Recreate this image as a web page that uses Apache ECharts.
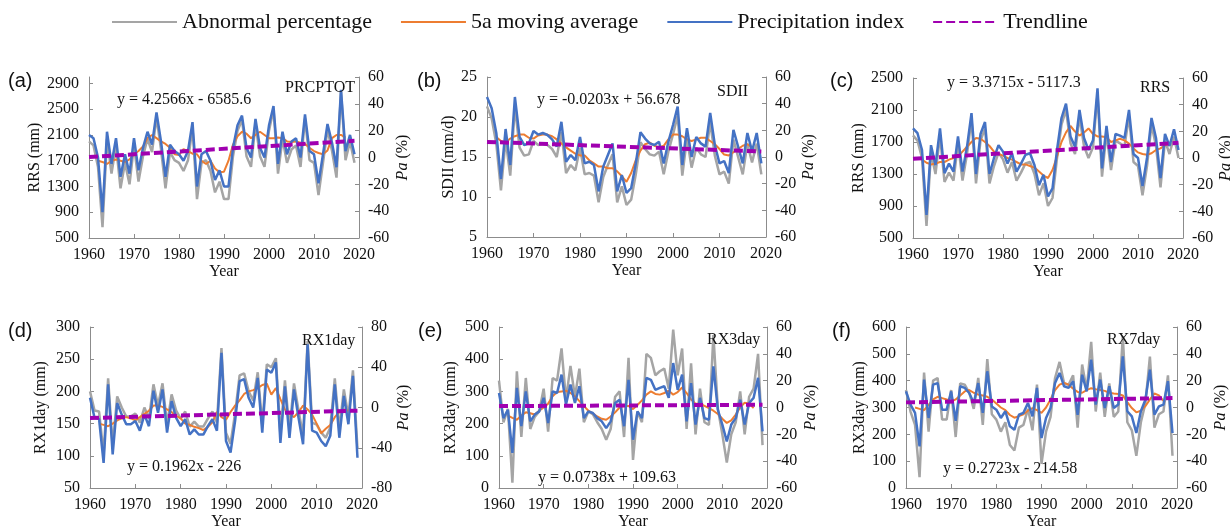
<!DOCTYPE html>
<html>
<head>
<meta charset="utf-8">
<script src="https://cdn.jsdelivr.net/npm/echarts@6/dist/echarts.min.js"></script>
<style>
  html, body { margin: 0; padding: 0; background: #fff; }
  #chart { width: 1230px; height: 529px; }
</style>
</head>
<body>
<div id="chart"></div>
<script>
// years on the x axis
const years = [1960, 1961, 1962, 1963, 1964, 1965, 1966, 1967, 1968, 1969,
  1970, 1971, 1972, 1973, 1974, 1975, 1976, 1977, 1978, 1979,
  1980, 1981, 1982, 1983, 1984, 1985, 1986, 1987, 1988, 1989,
  1990, 1991, 1992, 1993, 1994, 1995, 1996, 1997, 1998, 1999,
  2000, 2001, 2002, 2003, 2004, 2005, 2006, 2007, 2008, 2009,
  2010, 2011, 2012, 2013, 2014, 2015, 2016, 2017, 2018, 2019];
const trendYears = [1960, 2019];

// (a) PRCPTOT
const aIndex = [2100, 2050, 1750, 900, 2150, 1650, 2050, 1450, 1800, 1500,
  2050, 1550, 1900, 2150, 1950, 2450, 2000, 1450, 1950, 1850,
  1800, 1700, 1850, 2300, 1300, 1800, 1850, 1700, 1400, 1550,
  1300, 1300, 1900, 2250, 2400, 1900, 1750, 2350, 1900, 1750,
  2250, 2550, 1650, 2150, 1800, 2000, 2050, 1750, 2420, 1850,
  1800, 1350, 1800, 2270, 1980, 1600, 2800, 1850, 2100, 1800];
const aMoving = [null, null, 1700, 1680, 1650, 1700, 1720, 1700, 1680, 1720,
  1800, 1850, 1920, 2050, 2100, 2050, 2000, 1960, 1900, 1800,
  1790, 1880, 1850, 1810, 1800, 1700, 1650, 1700, 1580, 1520,
  1530, 1700, 1950, 2080, 2150, 2120, 2050, 2100, 2150, 2100,
  2050, 2050, 2060, 2050, 2000, 1990, 2000, 1980, 1960, 1900,
  1850, 1820, 1800, 1860, 2050, 2100, 2100, 2060, null, null];
const aAbnormal = [12, 9, -7, -52, 14, -12, 9, -23, -4, -20,
  9, -18, 1, 14, 4, 30, 6, -23, 4, -2,
  -4, -10, -2, 22, -31, -4, -2, -10, -26, -18,
  -31, -31, 1, 20, 28, 1, -7, 25, 1, -7,
  20, 36, -12, 14, -4, 6, 9, -7, 29, -2,
  -4, -28, -4, 21, 5, -15, 49, -2, 12, -4];
const aTrend = [1757.3, 2008.5];
const aTicks = [500, 900, 1300, 1700, 2100, 2500, 2900];

// (b) SDII
const bIndex = [22.5, 21.1, 18.0, 12.25, 18.5, 14.0, 22.5, 17.5, 16.5, 16.7,
  18.25, 17.8, 18.0, 17.75, 17.2, 16.3, 19.4, 14.4, 15.25, 14.6,
  17.5, 14.2, 14.4, 14.0, 10.7, 13.8, 15.25, 16.7, 10.7, 12.75,
  10.5, 11.1, 14.2, 18.1, 17.3, 16.7, 16.5, 16.9, 14.2, 16.9,
  19.0, 21.3, 14.0, 18.6, 15.0, 17.5, 16.7, 16.3, 20.5, 16.5,
  14.2, 14.5, 13.0, 18.4, 16.3, 14.2, 18.0, 15.7, 18.0, 14.2];
const bMoving = [null, null, 17.5, 17.0, 16.8, 17.3, 17.6, 17.8, 17.8, 17.4,
  17.3, 17.7, 17.8, 17.8, 17.6, 17.2, 16.7, 16.2, 15.8, 15.4,
  15.2, 15.2, 14.6, 14.2, 13.8, 13.8, 13.6, 13.6, 13.2, 12.6,
  11.9, 13.0, 14.6, 15.8, 16.6, 16.8, 16.4, 16.2, 16.4, 17.2,
  17.8, 17.8, 17.6, 17.2, 17.0, 17.2, 17.4, 17.4, 17.0, 16.6,
  16.0, 15.3, 15.2, 15.6, 16.0, 16.4, 16.6, 16.2, null, null];
const bAbnormal = [38, 29, 10, -25, 13, -14, 38, 7, 1, 2,
  12, 9, 10, 9, 6, 0, 19, -12, -6, -10,
  7, -13, -12, -14, -34, -15, -6, 2, -34, -22,
  -36, -32, -13, 11, 6, 2, 1, 4, -13, 4,
  17, 31, -14, 14, -8, 7, 2, 0, 26, 1,
  -13, -11, -20, 13, 0, -13, 10, -4, 10, -13];
const bTrend = [16.89, 15.69];

// (c) RRS
const cIndex = [1870, 1810, 1600, 790, 1660, 1410, 1870, 1310, 1430, 1330,
  1770, 1330, 1640, 2060, 1300, 1800, 1950, 1300, 1500, 1660,
  1580, 1430, 1560, 1330, 1430, 1540, 1560, 1410, 1160, 1290,
  1020, 1120, 1600, 2000, 2180, 1770, 1640, 2100, 1750, 1600,
  1720, 2370, 1370, 1900, 1450, 1800, 1780, 1750, 2100, 1550,
  1500, 1150, 1500, 2000, 1750, 1250, 1800, 1650, 1860, 1600];
const cMoving = [null, null, 1480, 1440, 1420, 1430, 1450, 1450, 1480, 1500,
  1520, 1580, 1640, 1700, 1750, 1740, 1700, 1650, 1580, 1550,
  1530, 1500, 1480, 1450, 1420, 1420, 1400, 1380, 1330, 1280,
  1250, 1350, 1520, 1700, 1820, 1900, 1830, 1780, 1820, 1870,
  1800, 1770, 1770, 1760, 1700, 1720, 1740, 1720, 1680, 1620,
  1570, 1550, 1540, 1560, 1600, 1620, 1660, 1680, null, null];
const cAbnormal = [17, 13, 0, -51, 4, -12, 17, -18, -11, -17,
  11, -17, 3, 29, -19, 13, 22, -19, -6, 4,
  -1, -11, -3, -17, -11, -4, -3, -12, -28, -19,
  -36, -30, 0, 25, 36, 11, 3, 31, 9, 0,
  8, 48, -14, 19, -9, 13, 11, 9, 31, -3,
  -6, -28, -6, 25, 9, -22, 13, 3, 16, 0];
const cTrend = [1490.8, 1689.8];
const cTicks = [500, 900, 1300, 1700, 2100, 2500];

// (d) RX1day
const dIndex = [190, 159, 157, 89, 211, 102, 182, 164, 149, 149,
  154, 139, 164, 146, 201, 167, 203, 136, 185, 159,
  146, 157, 133, 141, 133, 133, 146, 157, 139, 260,
  123, 105, 154, 216, 219, 190, 175, 221, 136, 234,
  229, 245, 120, 208, 128, 203, 159, 118, 273, 139,
  136, 123, 115, 131, 211, 128, 193, 149, 224, 97];
const dMoving = [null, null, 150, 148, 146, 150, 155, 158, 160, 158,
  155, 160, 165, 170, 178, 178, 176, 172, 168, 162,
  158, 150, 148, 145, 143, 140, 145, 152, 168, 160,
  156, 168, 178, 186, 196, 200, 202, 205, 210, 212,
  195, 205, 188, 172, 165, 160, 168, 178, 172, 164,
  150, 135, 142, 148, 160, 168, 172, 170, null, null];
const dAbnormal = [16, -3, -4, -46, 29, -38, 11, 0, -9, -9,
  -6, -15, 0, -11, 23, 2, 24, -17, 13, -3,
  -11, -4, -19, -14, -19, -19, -11, -4, -15, 59,
  -25, -36, -6, 32, 34, 16, 7, 35, -17, 43,
  40, 49, -27, 27, -22, 24, -3, -28, 66, -15,
  -17, -25, -30, -20, 29, -22, 18, -9, 37, -41];
const dTrend = [158.6, 170.1];

// (e) RX3day
const eIndex = [295, 217, 243, 109, 311, 192, 300, 207, 228, 238,
  280, 202, 300, 295, 352, 259, 321, 264, 316, 217,
  238, 233, 217, 207, 186, 207, 264, 274, 192, 336,
  150, 238, 217, 342, 336, 305, 311, 316, 280, 388,
  305, 352, 207, 326, 197, 280, 217, 212, 378, 243,
  197, 145, 197, 217, 274, 197, 264, 280, 342, 176];
const eMoving = [null, null, 225, 218, 212, 225, 235, 232, 228, 240,
  250, 262, 285, 298, 300, 302, 295, 285, 270, 255,
  240, 232, 222, 215, 212, 222, 235, 250, 255, 255,
  245, 258, 272, 290, 300, 292, 290, 295, 302, 290,
  298, 312, 295, 275, 262, 262, 255, 248, 240, 230,
  215, 202, 210, 228, 250, 265, 262, 248, null, null];
const eAbnormal = [20, -11, -1, -56, 27, -22, 22, -16, -7, -3,
  14, -18, 22, 20, 44, 6, 31, 8, 29, -11,
  -3, -5, -11, -16, -24, -16, 8, 12, -22, 37,
  -39, -3, -11, 40, 37, 24, 27, 29, 14, 58,
  24, 44, -16, 33, -20, 14, -11, -13, 54, -1,
  -20, -41, -20, -11, 12, -20, 8, 14, 40, -28];
const eTrend = [254.3, 258.6];

// (f) RX7day
const fIndex = [360, 311, 280, 155, 404, 261, 385, 391, 292, 292,
  360, 250, 379, 373, 354, 317, 391, 280, 435, 304,
  292, 261, 286, 230, 217, 273, 280, 317, 267, 373,
  186, 261, 298, 391, 429, 379, 373, 398, 273, 422,
  360, 478, 311, 404, 298, 379, 298, 311, 491, 286,
  267, 205, 286, 329, 441, 273, 304, 311, 398, 205];
const fMoving = [null, null, 300, 295, 290, 310, 330, 340, 335, 330,
  322, 330, 345, 360, 365, 355, 348, 345, 340, 330,
  315, 300, 290, 272, 262, 268, 275, 288, 298, 290,
  280, 300, 330, 365, 385, 392, 385, 370, 358, 355,
  365, 372, 368, 365, 362, 355, 352, 350, 345, 320,
  298, 282, 288, 305, 330, 352, 345, 325, null, null];
const fAbnormal = [13, -3, -13, -52, 26, -18, 20, 22, -9, -9,
  13, -22, 18, 17, 11, -1, 22, -13, 36, -5,
  -9, -18, -11, -28, -32, -15, -13, -1, -17, 17,
  -42, -18, -7, 22, 34, 18, 17, 24, -15, 32,
  13, 49, -3, 26, -7, 18, -7, -3, 53, -11,
  -17, -36, -11, 3, 38, -15, -5, -3, 24, -36];
const fTrend = [319.1, 335.2];

const SERIF = 'Liberation Serif';
const TXT = '#111';
const AXIS = '#8c8c8c';

// one entry per panel: data + where it sits
const panels = [
  {tag: '(a)', title: 'PRCPTOT', eq: 'y = 4.2566x - 6585.6', idx: aIndex, mov: aMoving, abn: aAbnormal, trend: aTrend,
    grid: {left: 89, top: 77, width: 270, height: 161}, yMin: 500, yMax: 3000, yTicks: aTicks, rMin: -60, rMax: 60, rInt: 20,
    yName: 'RRS (mm)', yGap: 43, rGap: 36, tagPos: [8, 81], eqPos: [117, 100], titlePos: [285, 88]},
  {tag: '(b)', title: 'SDII', eq: 'y = -0.0203x + 56.678', idx: bIndex, mov: bMoving, abn: bAbnormal, trend: bTrend,
    grid: {left: 487, top: 77, width: 279, height: 160}, yMin: 5, yMax: 25, yInt: 5, rMin: -60, rMax: 60, rInt: 20,
    yName: 'SDII (mm/d)', yGap: 28, rGap: 35, tagPos: [417, 81], eqPos: [537, 100], titlePos: [717, 92]},
  {tag: '(c)', title: 'RRS', eq: 'y = 3.3715x - 5117.3', idx: cIndex, mov: cMoving, abn: cAbnormal, trend: cTrend,
    grid: {left: 913, top: 78, width: 270, height: 160}, yMin: 500, yMax: 2500, yTicks: cTicks, rMin: -60, rMax: 60, rInt: 20,
    yName: 'RRS (mm)', yGap: 45, rGap: 35, tagPos: [830, 81], eqPos: [947, 83], titlePos: [1140, 88]},
  {tag: '(d)', title: 'RX1day', eq: 'y = 0.1962x - 226', idx: dIndex, mov: dMoving, abn: dAbnormal, trend: dTrend,
    grid: {left: 90, top: 327, width: 272, height: 161}, yMin: 50, yMax: 300, yInt: 50, rMin: -80, rMax: 80, rInt: 40,
    yName: 'RX1day (mm)', yGap: 41, rGap: 32, tagPos: [8, 331], eqPos: [127, 467], titlePos: [302, 341]},
  {tag: '(e)', title: 'RX3day', eq: 'y = 0.0738x + 109.63', idx: eIndex, mov: eMoving, abn: eAbnormal, trend: eTrend,
    grid: {left: 499, top: 327, width: 268, height: 161}, yMin: 0, yMax: 500, yInt: 100, rMin: -60, rMax: 60, rInt: 20,
    yName: 'RX3day (mm)', yGap: 40, rGap: 36, tagPos: [418, 331], eqPos: [538, 478], titlePos: [707, 340]},
  {tag: '(f)', title: 'RX7day', eq: 'y = 0.2723x - 214.58', idx: fIndex, mov: fMoving, abn: fAbnormal, trend: fTrend,
    grid: {left: 906, top: 327, width: 271, height: 161}, yMin: 0, yMax: 600, yInt: 100, rMin: -60, rMax: 60, rInt: 20,
    yName: 'RX3day (mm)', yGap: 37, rGap: 36, tagPos: [832, 331], eqPos: [943, 469], titlePos: [1107, 340]}
];

const font16 = {fontFamily: SERIF, fontSize: 16, color: TXT};
const plain = v => String(v);

function axisBase() {
  return {
    axisLine: {show: true, onZero: false, lineStyle: {color: AXIS, width: 1}},
    axisTick: {show: true, inside: true, length: 4, lineStyle: {color: AXIS}},
    splitLine: {show: false}
  };
}

const grids = [], xAxes = [], yAxes = [], series = [], graphics = [];

panels.forEach((p, i) => {
  grids.push(Object.assign({containLabel: false, outerBoundsMode: 'none'}, p.grid));

  xAxes.push(Object.assign(axisBase(), {
    gridIndex: i, type: 'value', min: 1960, max: 2020, interval: 10,
    name: 'Year', nameLocation: 'middle', nameGap: 23, nameTextStyle: font16,
    axisLabel: Object.assign({margin: 9, formatter: plain}, font16)
  }));

  const left = Object.assign(axisBase(), {
    gridIndex: i, type: 'value', position: 'left', min: p.yMin, max: p.yMax,
    name: p.yName, nameLocation: 'middle', nameRotate: 90, nameGap: p.yGap, nameTextStyle: font16,
    axisLabel: Object.assign({margin: 10, formatter: plain}, font16)
  });
  if (p.yTicks) {
    left.axisLabel.customValues = p.yTicks;
    left.axisTick.customValues = p.yTicks;
  } else {
    left.interval = p.yInt;
  }
  yAxes.push(left);

  yAxes.push(Object.assign(axisBase(), {
    gridIndex: i, type: 'value', position: 'right', min: p.rMin, max: p.rMax, interval: p.rInt,
    name: '{i|Pa} (%)', nameLocation: 'middle', nameRotate: 90, nameGap: p.rGap,
    nameTextStyle: Object.assign({rich: {i: Object.assign({fontStyle: 'italic'}, font16)}}, font16),
    axisLabel: Object.assign({margin: 9, formatter: plain}, font16)
  }));

  const common = {type: 'line', xAxisIndex: i, showSymbol: false, symbol: 'none', animation: false, silent: true};
  series.push(Object.assign({}, common, {
    name: 'Abnormal percentage', yAxisIndex: 2 * i + 1,
    data: years.map((y, k) => [y, p.abn[k]]),
    lineStyle: {color: '#a5a5a5', width: 2.5}, itemStyle: {color: '#a5a5a5'}
  }));
  series.push(Object.assign({}, common, {
    name: '5a moving average', yAxisIndex: 2 * i,
    data: years.map((y, k) => [y, p.mov[k]]),
    lineStyle: {color: '#ed7d31', width: 2}, itemStyle: {color: '#ed7d31'}
  }));
  series.push(Object.assign({}, common, {
    name: 'Precipitation index', yAxisIndex: 2 * i,
    data: years.map((y, k) => [y, p.idx[k]]),
    lineStyle: {color: '#4472c4', width: 2.5}, itemStyle: {color: '#4472c4'}
  }));
  series.push(Object.assign({}, common, {
    name: 'Trendline', yAxisIndex: 2 * i,
    data: trendYears.map((y, k) => [y, p.trend[k]]),
    lineStyle: {color: '#a000b0', width: 4, type: [9, 4]}, itemStyle: {color: '#a000b0'}
  }));

  graphics.push({type: 'text', x: p.tagPos[0], y: p.tagPos[1], z: 10,
    style: {text: p.tag, font: '20px "Liberation Sans"', fill: TXT, verticalAlign: 'middle', textVerticalAlign: 'middle'}});
  graphics.push({type: 'text', x: p.eqPos[0], y: p.eqPos[1], z: 10,
    style: {text: p.eq, font: '16px "Liberation Serif"', fill: TXT, verticalAlign: 'middle', textVerticalAlign: 'middle'}});
  graphics.push({type: 'text', x: p.titlePos[0], y: p.titlePos[1], z: 10,
    style: {text: p.title, font: '16px "Liberation Serif"', fill: TXT, verticalAlign: 'middle', textVerticalAlign: 'middle'}});
});

const chart = echarts.init(document.getElementById('chart'), null, {renderer: 'canvas', width: 1230, height: 529});
chart.setOption({
  backgroundColor: '#fff',
  animation: false,
  legend: {
    data: ['Abnormal percentage', '5a moving average', 'Precipitation index', 'Trendline'],
    left: 106, top: 6, itemWidth: 65, itemHeight: 14, itemGap: 28,
    itemStyle: {opacity: 0},
    textStyle: {fontFamily: SERIF, fontSize: 22, color: TXT}
  },
  grid: grids,
  xAxis: xAxes,
  yAxis: yAxes,
  series: series,
  graphic: graphics
});
</script>
</body>
</html>
